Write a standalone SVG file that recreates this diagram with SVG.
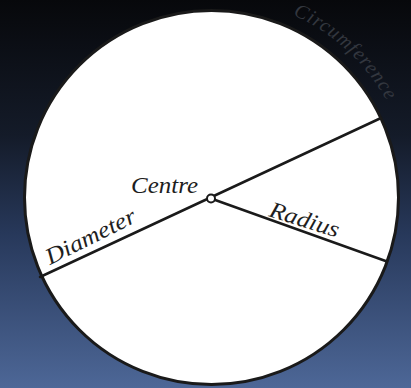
<svg xmlns="http://www.w3.org/2000/svg" width="411" height="388" viewBox="0 0 411 388">
<defs>
<linearGradient id="bg" x1="0" y1="0" x2="0" y2="1">
<stop offset="0" stop-color="#07080b"/>
<stop offset="0.35" stop-color="#141b29"/>
<stop offset="0.6" stop-color="#27385a"/>
<stop offset="1" stop-color="#4d6797"/>
</linearGradient>
<path id="arc" d="M292.8,14.8 A200,200 0 0 1 384.7,297.5"/>
<style>
.lbl{font-family:"Liberation Serif","DejaVu Serif",serif;font-style:italic;font-size:23px;fill:#1e1e1e}
.circ{font-size:20px;fill:#33373f}
.ln{stroke:#1a1a1a;stroke-width:2.5;fill:none;stroke-linecap:round}
</style>
</defs>
<rect width="411" height="388" fill="url(#bg)"/>
<text class="lbl circ" letter-spacing="1"><textPath href="#arc">Circumference</textPath></text>
<g id="circle">
<circle cx="211.5" cy="197.5" r="187" fill="#fff" stroke="#1a1a1a" stroke-width="3"/>
</g>
<g id="connectors">
<line class="ln" x1="40" y1="277" x2="381" y2="118"/>
<line class="ln" x1="211" y1="198.5" x2="387" y2="261.5"/>
</g>
<g id="centre">
<circle cx="211" cy="198.5" r="4" fill="#fff" stroke="#1a1a1a" stroke-width="2"/>
<text class="lbl" x="131" y="193" textLength="67" lengthAdjust="spacingAndGlyphs">Centre</text>
</g>
<g id="diameter">
<text class="lbl" transform="translate(50,265) rotate(-26.5)" textLength="98" lengthAdjust="spacingAndGlyphs">Diameter</text>
</g>
<g id="radius">
<text class="lbl" transform="translate(268,216) rotate(17.5)" textLength="72" lengthAdjust="spacingAndGlyphs">Radius</text>
</g>
</svg>
